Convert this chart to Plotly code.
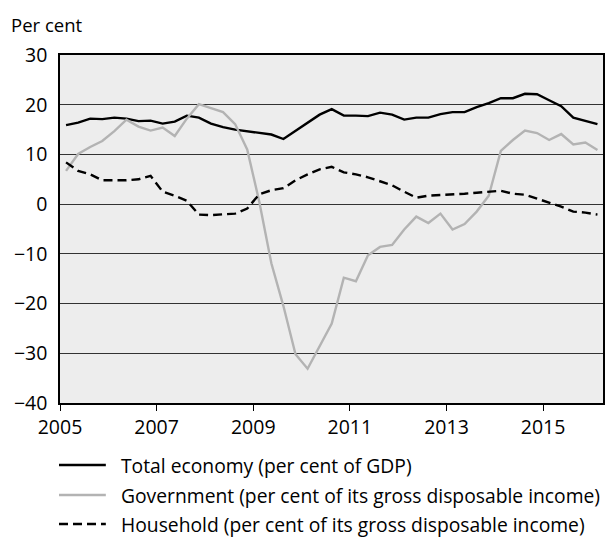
import plotly.graph_objects as go

years = list(range(2005, 2017))
quarters = [y + (q - 0.5) / 4 for y in years for q in range(1, 5)][:45]

total_economy = [15.9, 16.4, 17.2, 17.1,
                 17.4, 17.2, 16.7, 16.8,
                 16.2, 16.6, 17.8, 17.4,
                 16.2, 15.5, 15.0, 14.7,
                 14.3, 14.0, 13.1, 14.7,
                 16.3, 18.0, 19.1, 17.8,
                 17.8, 17.7, 18.4, 18.0,
                 17.0, 17.4, 17.4, 18.1,
                 18.5, 18.5, 19.5, 20.3,
                 21.3, 21.3, 22.2, 22.1,
                 20.9, 19.7, 17.4, 16.7,
                 16.1]

government = [6.7, 10.1, 11.5, 12.7,
              14.7, 17.0, 15.6, 14.8,
              15.4, 13.7, 17.2, 20.1,
              19.3, 18.5, 16.1, 11.0,
              0.5, -11.9, -20.5, -30.2,
              -33.1, -28.5, -24.0, -14.8,
              -15.5, -10.3, -8.6, -8.2,
              -5.1, -2.5, -3.8, -1.9,
              -5.1, -4.0, -1.5, 1.7,
              10.7, 12.9, 14.8, 14.3,
              12.9, 14.1, 12.0, 12.4,
              10.9]

household = [8.4, 6.7, 6.0, 4.8,
             4.8, 4.8, 5.0, 5.7,
             2.5, 1.7, 0.7, -2.1,
             -2.2, -2.1, -1.9, -0.9,
             2.0, 2.8, 3.2, 4.8,
             6.0, 7.0, 7.5, 6.4,
             6.0, 5.4, 4.6, 3.8,
             2.5, 1.3, 1.7, 1.8,
             2.0, 2.1, 2.3, 2.5,
             2.7, 2.1, 1.9, 1.1,
             0.3, -0.5, -1.5, -1.7,
             -2.1]

series_names = ["Total economy (per cent of GDP)",
                "Government (per cent of its gross disposable income)",
                "Household (per cent of its gross disposable income)"]
x_ticks = [2005, 2007, 2009, 2011, 2013, 2015]
y_ticks = [-40, -30, -20, -10, 0, 10, 20, 30]

FONT = "Open Sans"
styles = [dict(color="black", width=2.4, dash="solid"),
          dict(color="#b3b3b3", width=2.4, dash="solid"),
          dict(color="black", width=2.4, dash="9px,5px")]

fig = go.Figure()
for name, vals, st in zip(series_names, [total_economy, government, household], styles):
    fig.add_trace(go.Scatter(x=quarters, y=vals, mode="lines", name=name,
                             line=st, showlegend=False))

L, R, T, B = 60, 1, 55, 134
W, H = 606, 537
pw, ph = W - L - R, H - T - B

def px_x(p):
    return (p - L) / pw

def px_y(p):
    return (H - B - p) / ph

rows = [465, 495, 524]
shapes = []
annotations = []
for name, st, r in zip(series_names, styles, rows):
    shapes.append(dict(type="line", xref="paper", yref="paper",
                       x0=px_x(59), x1=px_x(106), y0=px_y(r), y1=px_y(r),
                       line=dict(color=st["color"], width=2.4, dash=st["dash"])))
    annotations.append(dict(xref="paper", yref="paper", x=px_x(119), y=px_y(r),
                            xanchor="left", yanchor="middle", showarrow=False,
                            text=name, font=dict(family=FONT, size=19.3, color="black")))

annotations.append(dict(xref="paper", yref="paper", x=px_x(9), y=px_y(25),
                        xanchor="left", yanchor="middle", showarrow=False,
                        text="Per cent", font=dict(family=FONT, size=18.5, color="black")))

fig.update_layout(
    width=W, height=H,
    margin=dict(l=L, r=R, t=T, b=B),
    paper_bgcolor="white",
    plot_bgcolor="#ededed",
    font=dict(family=FONT, size=19.5, color="black"),
    shapes=shapes,
    annotations=annotations,
    hovermode=False,
    xaxis=dict(range=[2005, 2016.24], tickvals=x_ticks, ticks="outside",
               ticklen=6, tickcolor="black", showgrid=False, zeroline=False,
               showline=True, linecolor="black", linewidth=1.5, mirror=True,
               tickfont=dict(family=FONT, size=19.5)),
    yaxis=dict(range=[-40, 30], tickvals=y_ticks, ticks="", showgrid=True,
               gridcolor="#333333", gridwidth=1, zeroline=False,
               showline=True, linecolor="black", linewidth=1.5, mirror=True,
               ticklabelstandoff=7, tickfont=dict(family=FONT, size=19.5)),
)

fig.write_html("out.html", config={"displayModeBar": False},
               post_script="document.body.style.margin='0px';")
